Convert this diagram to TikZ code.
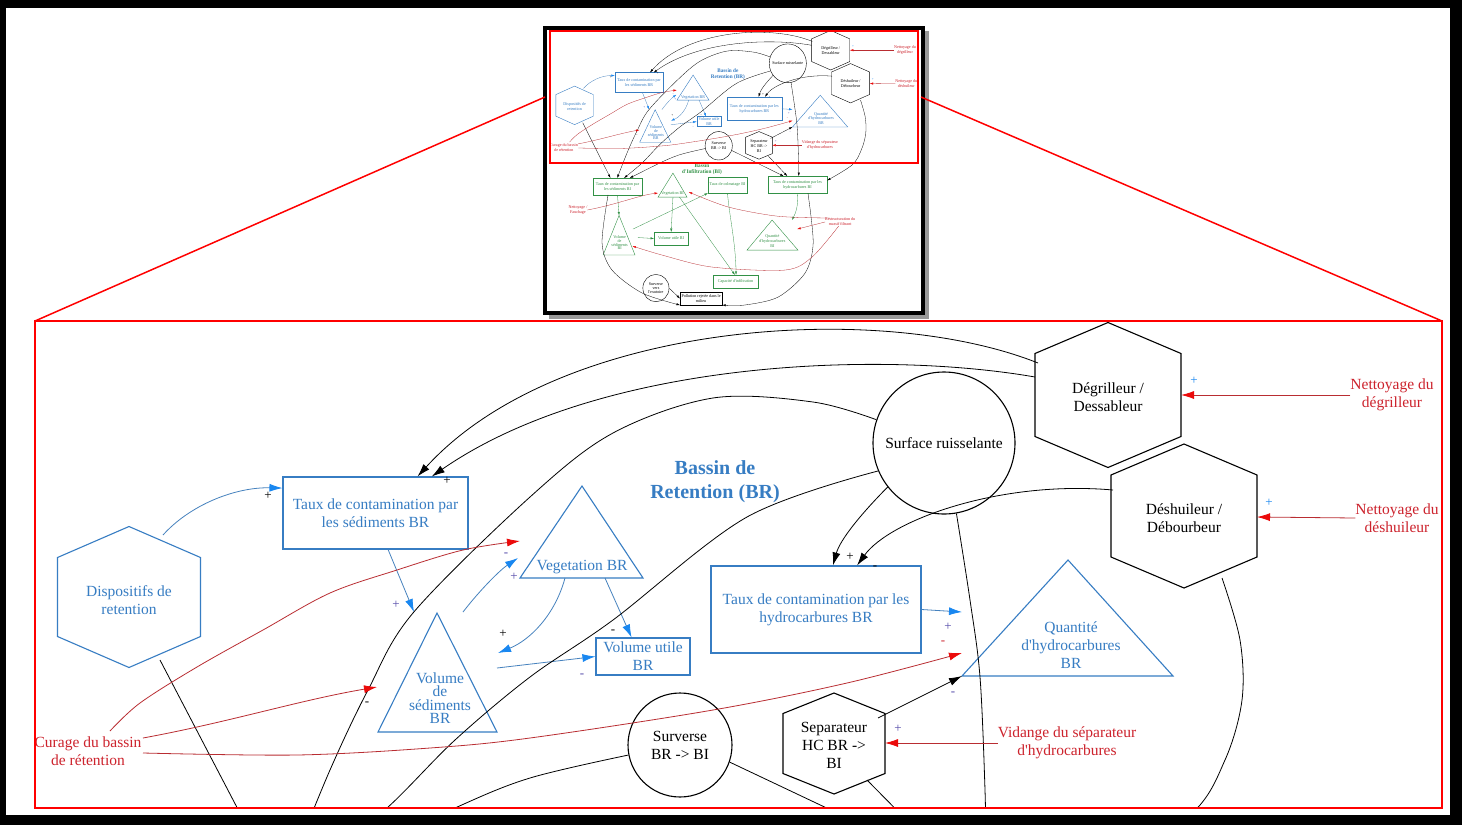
\documentclass[tikz,border=0pt]{standalone}
\usepackage{fontspec}
\setmainfont{Liberation Serif}
\usetikzlibrary{arrows.meta}
\definecolor{bluetxt}{RGB}{55,125,195}
\definecolor{blueln}{RGB}{70,130,190}
\definecolor{bluearr}{RGB}{25,135,240}
\definecolor{redtxt}{RGB}{205,35,45}
\definecolor{redln}{RGB}{185,45,50}
\definecolor{redarr}{RGB}{235,10,10}
\definecolor{grn}{RGB}{50,145,70}
\definecolor{signc}{RGB}{85,75,170}
\newcommand\ap{\textquotesingle}
\newcommand\dlw{0.8pt}
\newcommand\dsw{1.1pt}
\newcommand\dal{13pt}
\newcommand\daw{8pt}
\newcommand\hexa[6]{\draw[#1] (#2,#3-#5) -- (#2+#4,#3-#6) -- (#2+#4,#3+#6) -- (#2,#3+#5) -- (#2-#4,#3+#6) -- (#2-#4,#3-#6) -- cycle;}
\newcommand\tri[6]{\draw[#1] (#2,#3) -- (#5,#4) -- (#6,#4) -- cycle;}
\tikzset{
 txt/.style={align=center, inner sep=0pt, font=\fontsize{15.5}{18}\selectfont},
 btxt/.style={txt, text=bluetxt},
 ktxt/.style={txt, text=black},
 rtxt/.style={txt, text=redtxt},
 gtxt/.style={txt, text=grn},
 bshape/.style={draw=bluetxt, line width=\dsw},
 kshape/.style={draw=black, line width=\dsw},
 gshape/.style={draw=grn, line width=\dsw},
 arrowtip/.style={-{Latex[length=\dal,width=\daw,color=#1]}},
 barr/.style={draw=blueln, line width=\dlw, arrowtip=bluearr},
 karr/.style={draw=black, line width=\dlw, arrowtip=black},
 rarr/.style={draw=redln, line width=\dlw, arrowtip=redarr},
 garr/.style={draw=grn, line width=\dlw, arrowtip=grn},
 sgn/.style={inner sep=0pt, font=\fontsize{13}{13}\selectfont, text=#1},
}
% ---------- entry points on the lower (BI) part ----------
\newcommand\bicoords{%
\coordinate (tsb-n1) at (266,863);
\coordinate (tsb-n2) at (292,863);
\coordinate (tsb-n3) at (318,863);
\coordinate (tsb-n4) at (340,863);
\coordinate (tbi-n1) at (928,856);
\coordinate (tbi-n2) at (942,856);
\coordinate (tbi-n3) at (986,856);
\coordinate (tbi-e) at (1094,872);
}
% ---------- lower part: Bassin d'Infiltration ----------
\newcommand\bipart{%
\node[gshape, gtxt, minimum width=188pt, minimum height=62pt] (tsbi) at (293,894) {Taux de contamination par\\les sédiments BI};
\tri{gshape}{505}{845}{933}{448}{559}
\node[gtxt] (vgbi) at (503,921) {Vegetation BI};
\node[gshape, gtxt, minimum width=149pt, minimum height=59pt] (colbi) at (713.5,888.5) {Taux de colmatage BI};
\node[gshape, gtxt, minimum width=226pt, minimum height=62pt] (thbi) at (981,887) {Taux de contamination par les\\hydrocarbures BI};
\tri{gshape}{299}{1000}{1145}{238}{360}
\node[gtxt, font=\fontsize{15.5}{14}\selectfont] (vsbi) at (301,1100) {Volume\\de\\sédiments\\BI};
\node[gshape, gtxt, minimum width=130pt, minimum height=47pt] (vubi) at (498,1084.5) {Volume utile BI};
\tri{gshape}{884}{1017}{1127}{788}{983}
\node[gtxt] (qhbi) at (885,1093) {Quantité\\d\ap hydrocarbures\\BI};
\node[gshape, gtxt, minimum width=172pt, minimum height=48pt] (capbi) at (744,1242) {Capacité d\ap infiltration};
\node[kshape, circle, minimum size=100pt, ktxt, font=\fontsize{15.5}{16}\selectfont] (svbi) at (440,1266) {Surverse\\vers\\l\ap exutoire};
\node[kshape, ktxt, minimum width=161pt, minimum height=48pt] (polbi) at (612.5,1304) {Pollution rejetée dans le\\milieu};
\node[gtxt, font=\bfseries\fontsize{20}{24}\selectfont] (titbi) at (616,830) {Bassin\\d\ap Infiltration (BI)};
\node[rtxt] (netbi) at (142,980) {Nettoyage /\\Fauchage};
\node[rtxt] (restbi) at (1144,1024) {Restructuration du\\massif filtrant};
\coordinate (vsbi-a) at (299,1000);
\coordinate (vsbi-r) at (352,1050);
\coordinate (vsbi-r2) at (371,1081);
\coordinate (vsbi-r3) at (350,1112);
\coordinate (vgbi-b) at (505,933);
\coordinate (vgbi-b2) at (530,933);
\coordinate (vgbi-l) at (448,918);
\coordinate (vgbi-r) at (565,914);
\coordinate (qhbi-r) at (960,1017);
\coordinate (qhbi-r2) at (980,1050);
\coordinate (tsbi-sw) at (257,925);
\coordinate (thbi-se) at (1021,918);
\draw[garr] (tsbi.south) -- (vsbi-a);
\draw[garr] (vgbi-b) -- (vubi.north);
\draw[garr] (vsbi-r) -- (colbi.south west);
\draw[garr] (vsbi-r2) -- (vubi.west);
\draw[garr] (vgbi-b2) -- (capbi.95);
\draw[garr] (colbi.south) .. controls (720,1000) and (745,1100) .. (capbi.85);
\draw[garr] (thbi.south) .. controls (985,960) and (975,990) .. (qhbi-r);
\draw[karr] (svbi.east) -- (polbi.west);
\draw[karr] plot[smooth] coordinates {(tsbi-sw) (234,1101) (272,1200) (387,1284) (polbi.south west)};
\draw[karr] plot[smooth] coordinates {(thbi-se) (1041,1101) (1010,1211) (907,1299) (780,1328) (polbi.south east)};
\draw[rarr] (netbi.east) .. controls (290,960) and (380,925) .. (vgbi-l);
\draw[rarr] plot[smooth] coordinates {(restbi.160) (907,1003) (716,969) (vgbi-r)};
\draw[rarr] (restbi.west) -- (qhbi-r2);
\draw[rarr] plot[smooth] coordinates {(restbi.-110) (1037,1152) (934,1200) (654,1189) (463,1145) (vsbi-r3)};
}
% ---------- upper part: Bassin de Retention ----------
\newcommand\brpart{%
\hexa{bshape}{129}{597}{71.5}{70.5}{39.5}
\node[btxt] (disp) at (129,600) {Dispositifs de\\retention};
\node[bshape, btxt, minimum width=185pt, minimum height=72pt] (tsed) at (375.5,513) {Taux de contamination par\\les sédiments BR};
\tri{bshape}{582}{486}{578}{520}{643}
\node[btxt] (veg) at (582,567) {Vegetation BR};
\tri{bshape}{437}{613}{732}{378}{497}
\node[btxt, font=\fontsize{15.5}{13.5}\selectfont] (vsed) at (440,698) {Volume\\de\\sédiments\\BR};
\node[bshape, btxt, minimum width=94pt, minimum height=37pt] (vut) at (643,656.5) {Volume utile\\BR};
\node[bshape, btxt, minimum width=210pt, minimum height=87pt] (thy) at (816,609.5) {Taux de contamination par les\\hydrocarbures BR};
\tri{bshape}{1068}{560}{676}{962}{1173}
\node[btxt] (qhy) at (1071,645) {Quantité\\d\ap hydrocarbures\\BR};
\node[kshape, circle, minimum size=142pt, ktxt] (sr) at (944,443) {Surface ruisselante};
\hexa{kshape}{1108}{395}{73}{72.5}{41.5}
\node[ktxt] (deg) at (1108,397) {Dégrilleur /\\Dessableur};
\hexa{kshape}{1184}{516}{73}{72}{41}
\node[ktxt] (desh) at (1184,518) {Déshuileur /\\Débourbeur};
\node[kshape, circle, minimum size=104pt, ktxt] (surv) at (680,745) {Surverse\\BR -> BI};
\hexa{kshape}{834}{743.5}{51}{50.5}{30}
\node[ktxt] (sep) at (834,745) {Separateur\\HC BR ->\\BI};
\node[btxt, font=\bfseries\fontsize{20}{24}\selectfont] (tbr) at (715,482) {Bassin de\\Retention (BR)};
\node[rtxt] (cur) at (88,751) {Curage du bassin\\de rétention};
\node[rtxt] (ndeg) at (1392,395) {Nettoyage du\\dégrilleur};
\node[rtxt] (ndesh) at (1397,518) {Nettoyage du\\déshuileur};
\node[rtxt] (vid) at (1067,743) {Vidange du séparateur\\d\ap hydrocarbures};
\coordinate (disp-ne) at (163,535);
\coordinate (disp-s) at (160,660);
\coordinate (deg-w1) at (1038,363);
\coordinate (deg-w2) at (1035,377);
\coordinate (deg-e) at (1181,395);
\coordinate (desh-w) at (1113,490);
\coordinate (desh-s) at (1222,578);
\coordinate (desh-e) at (1257,517);
\coordinate (sep-ne) at (878,718);
\coordinate (sep-s) at (867,780);
\coordinate (sep-e) at (885,743);
\coordinate (qhy-w) at (962,676);
\coordinate (qhy-w2) at (962,653);
\coordinate (qhy-w3) at (962,612);
\coordinate (veg-l) at (565,578);
\coordinate (veg-r) at (605,578);
\coordinate (veg-in) at (518,558);
\coordinate (veg-in2) at (520,541);
\coordinate (vsed-a) at (414,612);
\coordinate (vsed-l) at (377,687);
\coordinate (cur-a) at (110,731);
\coordinate (cur-b) at (143,738);
\coordinate (cur-c) at (143,753);
\coordinate (f1) at (498,653);
\coordinate (f2) at (497,668);
\coordinate (f3) at (463,612);
\draw[barr] (disp-ne) .. controls (190,505) and (235,487) .. (tsed.165);
\draw[barr] (tsed.-71) -- (vsed-a);
\draw[barr] (veg-r) -- (vut.121);
\draw[barr] (veg-l) .. controls (555,615) and (530,640) .. (f1);
\draw[barr] (f2) -- (vut.west);
\draw[barr] (f3) .. controls (480,590) and (500,570) .. (veg-in);
\draw[barr] (thy.east) -- (qhy-w3);
\draw[karr] (deg-w1) .. controls (880,300) and (560,320) .. (tsed.41);
\draw[karr] (deg-w2) .. controls (880,350) and (600,360) .. (tsed.33);
\draw[karr] plot[smooth, tension=0.55] coordinates {(sr.161) (813,402) (713,398) (613,433) (530,497) (413,613) (368,690) (330,770) (tsb-n2)};
\draw[karr] plot[smooth, tension=0.55] coordinates {(sr.203) (747,517) (613,620) (530,677) (455,740) (387,808) (tsb-n3)};
\draw[karr] plot[smooth, tension=0.55] coordinates {(surv.191) (530,778) (455,808) (tsb-n4)};
\draw[karr] (disp-s) -- (tsb-n1);
\draw[karr] (surv.-19) -- (tbi-n1);
\draw[karr] (sep-s) -- (tbi-n2);
\draw[karr] plot[smooth, tension=0.55] coordinates {(sr.-80) (970,600) (980,677) (985,790) (tbi-n3)};
\draw[karr] plot[smooth, tension=0.55] coordinates {(desh-s) (1240,640) (1242,700) (1225,760) (1190,815) (tbi-e)};
\draw[karr] (sep-ne) -- (qhy-w);
\draw[karr] (sr.218) .. controls (860,515) and (840,540) .. (thy.69);
\draw[karr] (desh-w) .. controls (1000,480) and (890,520) .. (thy.47);
\draw[rarr] plot[smooth, tension=0.55] coordinates {(cur-a) (140,703) (197,667) (263,630) (330,593) (397,570) (463,550) (veg-in2)};
\draw[rarr] (cur-b) .. controls (230,722) and (300,700) .. (vsed-l);
\draw[rarr] plot[smooth, tension=0.55] coordinates {(cur-c) (297,755) (430,748) (530,738) (713,710) (847,683) (qhy-w2)};
\draw[rarr] (ndeg.west) -- (deg-e);
\draw[rarr] (ndesh.west) -- (desh-e);
\draw[rarr] (vid.west) -- (sep-e);
\node[sgn=black] at (268,496) {+};
\node[sgn=black] at (447,481) {+};
\node[sgn=signc] at (396,605) {+};
\node[sgn=black] at (367,704) {-};
\node[sgn=signc] at (506,555) {-};
\node[sgn=signc] at (514,577) {+};
\node[sgn=black] at (503,634) {+};
\node[sgn=black] at (613,632) {-};
\node[sgn=signc] at (582,676) {-};
\node[sgn=black] at (850,557) {+};
\node[sgn=black] at (875,568) {-};
\node[sgn=signc] at (948,627) {+};
\node[sgn=redtxt] at (943,643) {-};
\node[sgn=signc] at (953,694) {-};
\node[sgn=signc] at (898,729) {+};
\node[sgn=bluearr] at (1194,381) {+};
\node[sgn=bluearr] at (1269,503) {+};
}
\begin{document}
\begin{tikzpicture}[x=1pt,y=-1pt]
\fill[black] (0,0) rectangle (1462,825);
\fill[white] (6,8) rectangle (1450,815);
% thumbnail of the whole model
\fill[black!40] (549,31) rectangle (929,319);
\fill[black] (543,26) rectangle (925,315);
\fill[white] (547,30) rectangle (921,311);
\begin{scope}
 \clip (547,30) rectangle (921,311);
 \begin{scope}[shift={(540.84,-57.67)}, xscale=0.2616, yscale=0.2731, transform shape]
  \renewcommand\dlw{0.3pt}\renewcommand\dsw{0.4pt}\renewcommand\dal{3.5pt}\renewcommand\daw{2.2pt}
  \bicoords
  \bipart
  \brpart
 \end{scope}
\end{scope}
\draw[red, line width=2pt] (550,31) rectangle (918,163);
\draw[red, line width=1.5pt] (545,97) -- (35,321);
\draw[red, line width=1.5pt] (921,97) -- (1442,321);
% enlarged view
\begin{scope}
 \clip (33,321) rectangle (1442,808);
 \bicoords
 \brpart
\end{scope}
\draw[red, line width=1.6pt] (35,321) rectangle (1442,808);
\pgfresetboundingbox
\path[use as bounding box] (0,0) rectangle (1462,825);
\end{tikzpicture}
\end{document}
